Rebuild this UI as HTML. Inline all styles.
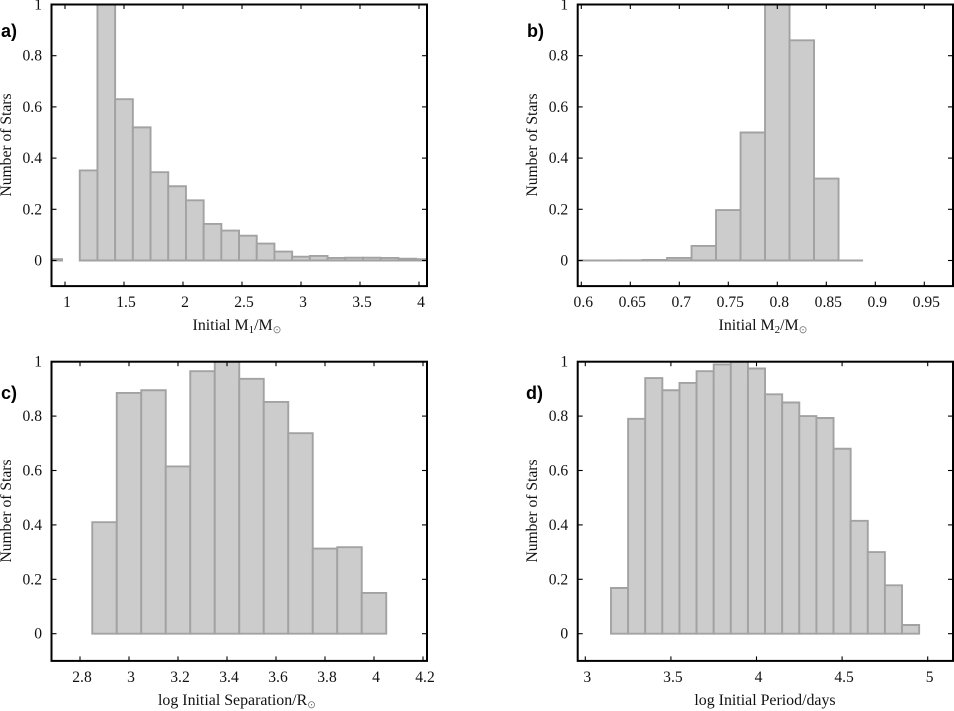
<!DOCTYPE html>
<html lang="en">
<head>
<meta charset="utf-8">
<title>Initial distributions histograms</title>
<style>
html,body{margin:0;padding:0;background:#fff;}
svg{display:block;}
text{font-family:"Liberation Serif","DejaVu Serif",serif;fill:#111;font-size:15.6px;}
.xt{font-size:15.9px;}
.tag{font-family:"Liberation Sans",sans-serif;font-weight:bold;font-size:18px;fill:#000;}
.sun{font-family:"DejaVu Sans",sans-serif;fill:#777;font-size:10.5px;}
</style>
</head>
<body>
<svg id="chart" xmlns="http://www.w3.org/2000/svg" width="954" height="711" viewBox="0 0 954 711">
  <rect x="0" y="0" width="954" height="711" fill="#fff"/>
  <text class="tag" x="1" y="37">a)</text>
  <text class="tag" x="527" y="37">b)</text>
  <text class="tag" x="1" y="399">c)</text>
  <text class="tag" x="526" y="399">d)</text>

  <text class="xt" x="237" y="330" text-anchor="middle">Initial M<tspan dy="3" font-size="11">1</tspan><tspan dy="-3">/M</tspan><tspan class="sun" dy="3">⊙</tspan></text>
  <text class="xt" x="763" y="330" text-anchor="middle">Initial M<tspan dy="3" font-size="11">2</tspan><tspan dy="-3">/M</tspan><tspan class="sun" dy="3">⊙</tspan></text>
  <text class="xt" x="237" y="705" text-anchor="middle">log Initial Separation/R<tspan class="sun" dy="3">⊙</tspan></text>
  <text class="xt" x="765" y="705" text-anchor="middle">log Initial Period/days</text>

  <text transform="translate(11,145) rotate(-90)" text-anchor="middle">Number of Stars</text>
  <text transform="translate(537,145) rotate(-90)" text-anchor="middle">Number of Stars</text>
  <text transform="translate(11,511) rotate(-90)" text-anchor="middle">Number of Stars</text>
  <text transform="translate(537,511) rotate(-90)" text-anchor="middle">Number of Stars</text>
</svg>
<script>
// Panel a: initial primary mass
const aCenters = [0.9, 1.05, 1.2, 1.35, 1.5, 1.65, 1.8, 1.95, 2.1, 2.25, 2.4, 2.55, 2.7, 2.85, 3.0, 3.15, 3.3, 3.45, 3.6, 3.75, 3.9, 4.05];
const aValues = [0.005, null, 0.352, 1, 0.63, 0.52, 0.345, 0.29, 0.235, 0.143, 0.117, 0.097, 0.066, 0.035, 0.015, 0.018, 0.01, 0.011, 0.011, 0.01, 0.007, 0.005];
const aXTicks = ["1", "1.5", "2", "2.5", "3", "3.5", "4"];
// Panel b: initial secondary mass
const bCenters = [0.6, 0.625, 0.65, 0.675, 0.7, 0.725, 0.75, 0.775, 0.8, 0.825, 0.85, 0.875];
const bValues = [0, 0, 0.0005, 0.002, 0.01, 0.057, 0.197, 0.5, 1, 0.86, 0.32, 0];
const bXTicks = ["0.6", "0.65", "0.7", "0.75", "0.8", "0.85", "0.9", "0.95"];
// Panel c: log initial separation
const cCenters = [2.9, 3.0, 3.1, 3.2, 3.3, 3.4, 3.5, 3.6, 3.7, 3.8, 3.9, 4.0];
const cValues = [0.41, 0.885, 0.895, 0.615, 0.965, 1, 0.937, 0.852, 0.737, 0.313, 0.318, 0.15];
const cXTicks = ["2.8", "3", "3.2", "3.4", "3.6", "3.8", "4", "4.2"];
// Panel d: log initial period
const dCenters = [3.2, 3.3, 3.4, 3.5, 3.6, 3.7, 3.8, 3.9, 4.0, 4.1, 4.2, 4.3, 4.4, 4.5, 4.6, 4.7, 4.8, 4.9];
const dValues = [0.168, 0.79, 0.94, 0.895, 0.922, 0.965, 0.99, 1, 0.975, 0.88, 0.85, 0.8, 0.793, 0.68, 0.415, 0.3, 0.178, 0.032];
const dXTicks = ["3", "3.5", "4", "4.5", "5"];
// Shared y ticks
const yTicks = ["0", "0.2", "0.4", "0.6", "0.8", "1"];

const NS = 'http://www.w3.org/2000/svg';
const svg = document.getElementById('chart');

function linearX(value, layout) {
  return layout.x0 + (value - layout.v0) * layout.pxPerUnit;
}
function linearY(value, layout) {
  return layout.yZero - value * layout.yPerUnit;
}
function shape(tag, attrs, parent) {
  const el = document.createElementNS(NS, tag);
  Object.keys(attrs).forEach(function (k) { el.setAttribute(k, attrs[k]); });
  parent.appendChild(el);
  return el;
}

function drawPanel(id, layout, centers, values, binWidth, xTicks) {
  const group = shape('g', {}, svg);
  
  

  const top = linearY(1, layout);
  const bottom = linearY(-0.1, layout);
  const zero = linearY(0, layout);

  const defs = shape('defs', {}, group);
  const clip = shape('clipPath', { id: 'clip-' + id }, defs);
  shape('rect', { x: layout.left, y: top, width: layout.right - layout.left, height: bottom - top }, clip);

  const bars = shape('g', { 'clip-path': 'url(#clip-' + id + ')' }, group);
  
  
  centers.forEach(function (c, i) {
    if (values[i] === null) return;
    const x1 = linearX(c - binWidth / 2, layout);
    const x2 = linearX(c + binWidth / 2, layout);
    const y = linearY(values[i], layout);
    const bar = shape('path', {
      d: 'M' + x1 + ' ' + zero + 'L' + x1 + ' ' + y + 'L' + x2 + ' ' + y + 'L' + x2 + ' ' + zero + 'Z',
      fill: '#cccccc', stroke: '#a2a2a2', 'stroke-width': 1.9
    }, bars);
    
    
  });

  xTicks.forEach(function (label) {
    const x = linearX(parseFloat(label), layout);
    const t1 = shape('line', { x1: x, x2: x, y1: bottom, y2: bottom - 4.5, stroke: '#000', 'stroke-width': 1.1 }, group);
    
    
    const t2 = shape('line', { x1: x, x2: x, y1: top, y2: top + 4.5, stroke: '#000', 'stroke-width': 1.1 }, group);
    
    
    const txt = shape('text', { x: x + 2, y: bottom + 21, 'text-anchor': 'middle' }, group);
    txt.textContent = label;
    
    
  });

  yTicks.forEach(function (label) {
    const y = linearY(parseFloat(label), layout);
    const t1 = shape('line', { x1: layout.left, x2: layout.left + 5, y1: y, y2: y, stroke: '#000', 'stroke-width': 1.1 }, group);
    
    
    const t2 = shape('line', { x1: layout.right, x2: layout.right - 5, y1: y, y2: y, stroke: '#000', 'stroke-width': 1.1 }, group);
    
    
    const txt = shape('text', { x: layout.left - 9.5, y: y + 5, 'text-anchor': 'end' }, group);
    txt.textContent = label;
    
    
  });

  const frame = shape('rect', {
    x: layout.left, y: top, width: layout.right - layout.left, height: bottom - top,
    fill: 'none', stroke: '#000', 'stroke-width': 2
  }, group);
  
  
}

const rowTop = { yZero: 260.5, yPerUnit: 256 };
const rowBottom = { yZero: 633.7, yPerUnit: 272 };

drawPanel('a', { left: 51.5, right: 427, x0: 65, v0: 1, pxPerUnit: 118, yZero: rowTop.yZero, yPerUnit: rowTop.yPerUnit }, aCenters, aValues, 0.15, aXTicks);
drawPanel('b', { left: 577.7, right: 953, x0: 581.3, v0: 0.6, pxPerUnit: 980, yZero: rowTop.yZero, yPerUnit: rowTop.yPerUnit }, bCenters, bValues, 0.025, bXTicks);
drawPanel('c', { left: 51.5, right: 427, x0: 80, v0: 2.8, pxPerUnit: 245, yZero: rowBottom.yZero, yPerUnit: rowBottom.yPerUnit }, cCenters, cValues, 0.1, cXTicks);
drawPanel('d', { left: 577.7, right: 953, x0: 585.3, v0: 3, pxPerUnit: 171.2, yZero: rowBottom.yZero, yPerUnit: rowBottom.yPerUnit }, dCenters, dValues, 0.1, dXTicks);
</script>
</body>
</html>
